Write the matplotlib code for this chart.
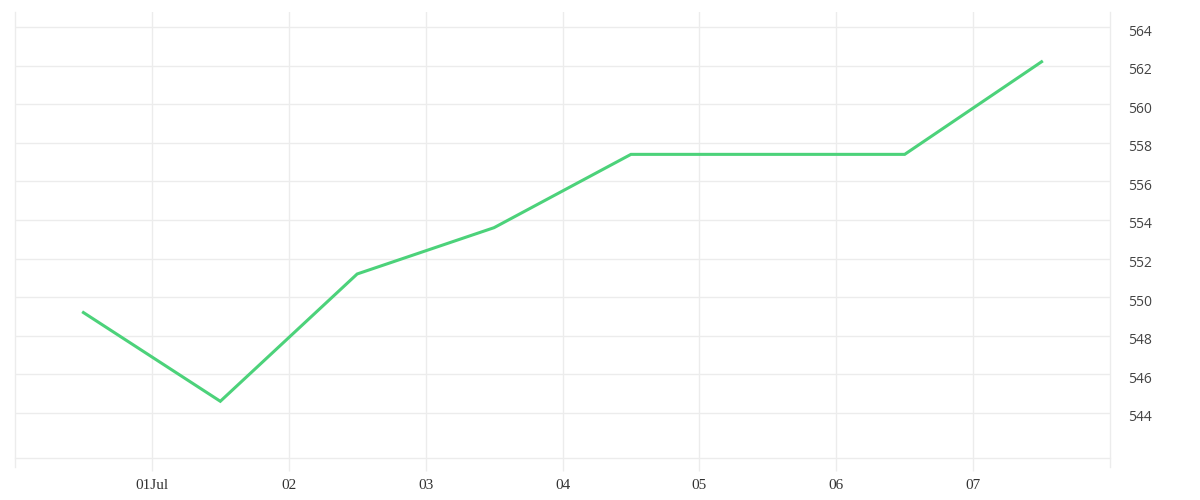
import matplotlib.pyplot as plt
import matplotlib.transforms as mtrans
import numpy as np

# daily closes, stamped at midday
dates = np.array(["2021-06-30T12:00", "2021-07-01T12:00", "2021-07-02T12:00",
                  "2021-07-03T12:00", "2021-07-04T12:00", "2021-07-05T12:00",
                  "2021-07-06T12:00", "2021-07-07T12:00"], dtype="datetime64[m]")
values = [549.2, 544.6, 551.2, 553.6, 557.4, 557.4, 557.4, 562.2]
tick_days = np.array(["2021-07-01", "2021-07-02", "2021-07-03", "2021-07-04",
                      "2021-07-05", "2021-07-06", "2021-07-07"], dtype="datetime64[D]")
tick_labels = ["01Jul", "02", "03", "04", "05", "06", "07"]
y_ticks = [544, 546, 548, 550, 552, 554, 556, 558, 560, 562, 564]

grid_c = "#ececec"

fig = plt.figure(figsize=(12, 5), dpi=100)
ax = fig.add_axes([15 / 1200, 42 / 500, 1095 / 1200, 446 / 500])

ax.plot(dates.astype("datetime64[ms]").astype(object), values,
        color="#4cd27a", lw=2.2, solid_joinstyle="miter")

ax.set_xlim(np.datetime64("2021-06-30").astype(object), np.datetime64("2021-07-08").astype(object))
ax.set_ylim(541.66, 564.78)

ax.set_xticks(tick_days.astype(object))
ax.set_xticklabels(tick_labels, family="Liberation Serif", fontsize=11, color="#333333")
ax.set_yticks(y_ticks)
ax.set_yticklabels([str(v) for v in y_ticks], family="Open Sans",
                   fontsize=10, color="#444444")
ax.yaxis.tick_right()

ax.grid(True, color=grid_c, lw=1)
ax.tick_params(axis="x", length=9, color=grid_c, width=1, pad=6)
ax.tick_params(axis="y", length=0, pad=13)

# labels on the right sit a few pixels under their gridlines
off = mtrans.ScaledTranslation(0, -3 / 100, fig.dpi_scale_trans)
for lbl in ax.get_yticklabels():
    lbl.set_transform(lbl.get_transform() + off)

for side in ["left", "right", "bottom"]:
    ax.spines[side].set_color(grid_c)
    ax.spines[side].set_linewidth(1)
ax.spines["top"].set_visible(False)
ax.spines["left"].set_bounds(541.66 - 0.47, 564.78)
ax.spines["right"].set_bounds(541.66 - 0.47, 564.78)
for s in ["left", "right"]:
    ax.spines[s].set_clip_on(False)

fig.savefig("out.png", dpi=100, facecolor="white")
